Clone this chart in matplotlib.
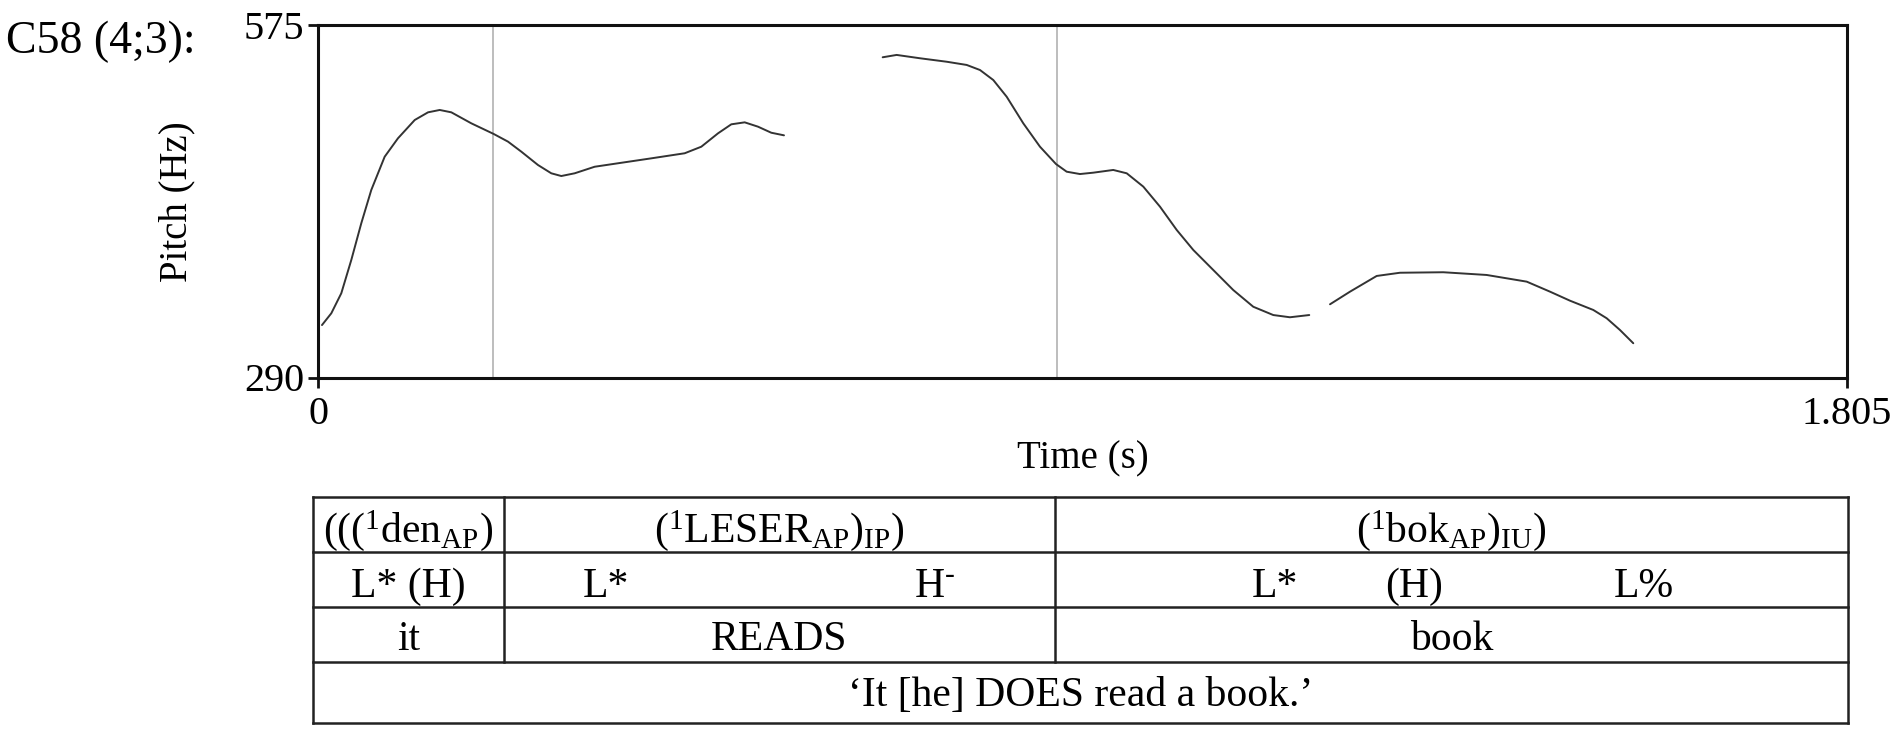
import matplotlib
matplotlib.use("Agg")
import matplotlib.pyplot as plt

plt.rcParams['font.family'] = ['Liberation Serif', 'DejaVu Serif']
plt.rcParams['mathtext.fontset'] = 'custom'
plt.rcParams['mathtext.rm'] = 'Liberation Serif'
plt.rcParams['mathtext.it'] = 'Liberation Serif:italic'
plt.rcParams['mathtext.default'] = 'regular'

# ---- data: pitch contour (time in s, pitch in Hz), three voiced stretches
seg1_t = [0.0047, 0.0157, 0.0275, 0.0393, 0.0511, 0.0629, 0.0787, 0.0944, 0.1142,
          0.1299, 0.1437, 0.1574, 0.1810, 0.2074, 0.2243, 0.2400, 0.2597, 0.2754,
          0.2872, 0.3030, 0.3266, 0.3541, 0.3935, 0.4329, 0.4525, 0.4722, 0.4879,
          0.5037, 0.5194, 0.5351, 0.5501]
seg1_p = [332.4, 341.9, 358.1, 385.0, 414.7, 441.6, 468.5, 483.4, 498.2,
          504.4, 506.3, 504.4, 495.5, 486.9, 480.7, 472.6, 461.8, 455.1,
          452.9, 455.1, 460.4, 463.2, 467.2, 471.3, 476.6, 487.4, 494.7,
          496.3, 492.8, 487.9, 485.8]
seg2_t = [0.6666, 0.6831, 0.7107, 0.7422, 0.7658, 0.7815, 0.7972, 0.8130, 0.8326,
          0.8523, 0.8712, 0.8838, 0.8995, 0.9152, 0.9388, 0.9547, 0.9743, 0.9940,
          1.0137, 1.0333, 1.0569, 1.0805, 1.1041, 1.1277, 1.1474, 1.1702]
seg2_p = [548.9, 550.8, 548.1, 545.3, 542.7, 538.6, 530.5, 517.0, 495.5,
          476.6, 462.6, 456.4, 454.5, 455.6, 457.8, 455.1, 444.3, 428.1,
          409.3, 393.1, 376.9, 360.7, 347.2, 340.5, 338.7, 340.5]
seg3_t = [1.1947, 1.2183, 1.2498, 1.2773, 1.3284, 1.3796, 1.4269, 1.4544, 1.4780,
          1.5055, 1.5213, 1.5370, 1.5527]
seg3_p = [349.2, 359.4, 372.1, 374.7, 375.1, 372.9, 367.5, 359.4, 352.1,
          344.6, 337.9, 328.4, 317.7]
boundaries = [0.207, 0.872]
x_range = [0, 1.805]
y_range = [290, 575]
x_ticklabels = ['0', '1.805']
y_ticklabels = ['290', '575']

# ---- table contents
row1 = [r'((($^{1}$den$_{AP}$)', r'($^{1}$LESER$_{AP}$)$_{IP}$)', r'($^{1}$bok$_{AP}$)$_{IU}$)']
row2 = ['L* (H)', 'L*', 'H$^{\u2010}$', 'L*', '(H)', 'L%']
row3 = ['it', 'READS', 'book']
row4 = '\u2018It [he] DOES read a book.\u2019'

W, H = 1901, 735
fig = plt.figure(figsize=(W / 100, H / 100), dpi=100)

# layout axes in pixel coordinates (for the table)
lay = fig.add_axes([0, 0, 1, 1], zorder=0)
lay.set_xlim(0, W)
lay.set_ylim(H, 0)
lay.axis('off')

ax = fig.add_axes([318 / W, 1 - 377.5 / H, (1847 - 318) / W, (377.5 - 25) / H], zorder=1)
ax.patch.set_alpha(0)
line_col = '#333333'
for t, p in [(seg1_t, seg1_p), (seg2_t, seg2_p), (seg3_t, seg3_p)]:
    ax.plot(t, p, color=line_col, lw=1.4, solid_capstyle='round', solid_joinstyle='round')
for b in boundaries:
    ax.axvline(b, color='#b8b8b8', lw=1.3, zorder=0)
ax.set_xlim(*x_range)
ax.set_ylim(*y_range)
ax.set_xticks(x_range)
ax.set_xticklabels(x_ticklabels)
ax.set_yticks(y_range)
ax.set_yticklabels(y_ticklabels)
for s in ax.spines.values():
    s.set_linewidth(2.2)
    s.set_color('#111111')
ax.tick_params(axis='both', length=7, width=2, labelsize=29, color='#111111')
ax.tick_params(axis='x', pad=6)
ax.tick_params(axis='y', pad=3)
ax.set_xlabel('Time (s)', fontsize=28)
ax.xaxis.set_label_coords(0.5, -0.232)
ax.xaxis.label.set_verticalalignment('center')
ax.set_ylabel('Pitch (Hz)', fontsize=28)
ax.yaxis.set_label_coords(-0.092, 0.5)
ax.yaxis.label.set_verticalalignment('center')

fig.text(6 / W, 1 - 42 / H, 'C58 (4;3):', fontsize=33, ha='left', va='center')

# ---- table
tl, tr = 313, 1848
div1, div2 = 504, 1055
rows_y = [496.7, 552.3, 606.7, 662.3, 723.3]
tcol = '#222222'
tlw = 1.8
for y in rows_y:
    lay.plot([tl, tr], [y, y], color=tcol, lw=tlw)
lay.plot([tl, tl], [rows_y[0], rows_y[-1]], color=tcol, lw=tlw)
lay.plot([tr, tr], [rows_y[0], rows_y[-1]], color=tcol, lw=tlw)
for d in (div1, div2):
    lay.plot([d, d], [rows_y[0], rows_y[3]], color=tcol, lw=tlw)

fs = 30
c1, c2, c3 = (tl + div1) / 2, (div1 + div2) / 2, (div2 + tr) / 2
base1, base2, base3, base4 = 541.7, 596.7, 650, 706
for x, s in zip([c1, c2, c3], row1):
    lay.text(x, base1, s, fontsize=fs, ha='center', va='baseline')
for x, s in zip([c1, 606, 935, 1275, 1414, 1644], row2):
    lay.text(x, base2, s, fontsize=fs, ha='center', va='baseline')
for x, s in zip([c1, c2, c3], row3):
    lay.text(x, base3, s, fontsize=fs, ha='center', va='baseline')
lay.text((tl + tr) / 2, base4, row4, fontsize=fs, ha='center', va='baseline')

fig.savefig('out.png', dpi=100)
